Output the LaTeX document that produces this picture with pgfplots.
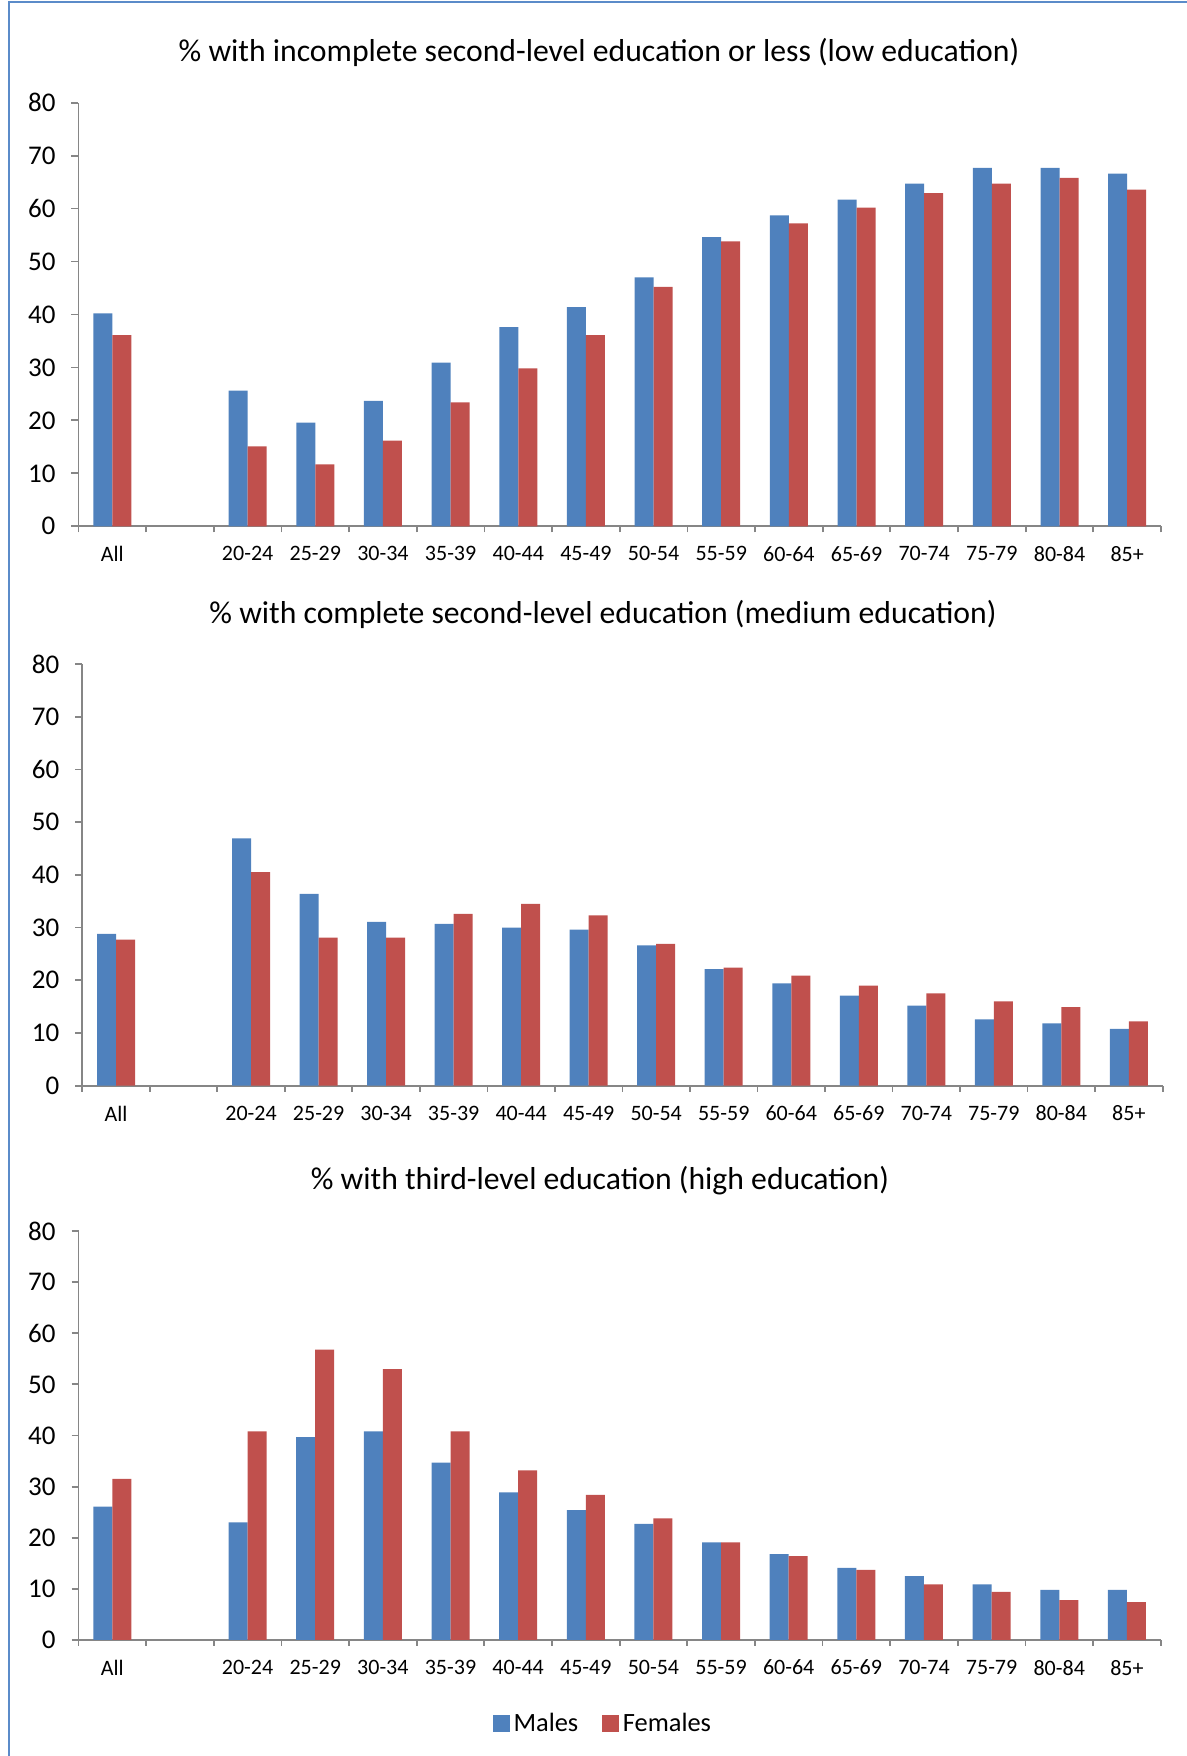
\documentclass[border=0pt]{standalone}
\usepackage{pgfplots}
\usepackage{pgfplotstable}
\pgfplotsset{compat=1.18}
\usepackage{fontspec}
\setmainfont{Carlito}
\definecolor{mblue}{HTML}{4F81BD}
\definecolor{fred}{HTML}{C0504D}
\definecolor{axgray}{HTML}{868686}
\definecolor{frameblue}{HTML}{5B8BC9}

\pgfplotstableread{
x M F
0 40.2 36.1
2 25.6 15.1
3 19.6 11.7
4 23.7 16.2
5 30.9 23.4
6 37.6 29.8
7 41.4 36.1
8 47.0 45.2
9 54.6 53.8
10 58.7 57.2
11 61.7 60.2
12 64.7 62.9
13 67.7 64.7
14 67.7 65.8
15 66.6 63.6
}\lowtab

\pgfplotstableread{
x M F
0 28.8 27.7
2 46.9 40.5
3 36.4 28.1
4 31.1 28.1
5 30.7 32.6
6 30.0 34.5
7 29.6 32.3
8 26.6 26.9
9 22.1 22.4
10 19.4 20.9
11 17.1 19.0
12 15.2 17.5
13 12.6 16.0
14 11.8 14.9
15 10.8 12.2
}\medtab

\pgfplotstableread{
x M F
0 26.1 31.5
2 23.0 40.8
3 39.7 56.8
4 40.8 53.0
5 34.7 40.8
6 28.9 33.2
7 25.4 28.4
8 22.7 23.8
9 19.1 19.1
10 16.8 16.4
11 14.1 13.7
12 12.5 10.9
13 10.9 9.4
14 9.8 7.8
15 9.8 7.4
}\hightab

\pgfplotsset{
  edu/.style={
    scale only axis,
    anchor=south west,
    ybar=0pt, bar width=9.5pt,
    xmin=-0.5, xmax=15.5, ymin=0, ymax=80,
    axis x line*=bottom, axis y line*=left,
    axis line style={axgray, line width=0.9pt},
    every tick/.style={axgray, line width=0.9pt},
    tick align=outside,
    major tick length=3.5pt,
    minor tick length=3pt,
    xtick={0,2,3,4,5,6,7,8,9,10,11,12,13,14,15},
    xticklabels={All,20-24,25-29,30-34,35-39,40-44,45-49,50-54,55-59,60-64,65-69,70-74,75-79,80-84,85+},
    major x tick style={draw=none},
    minor xtick={-0.5,0.5,1.5,2.5,3.5,4.5,5.5,6.5,7.5,8.5,9.5,10.5,11.5,12.5,13.5,14.5,15.5},
    ytick={0,10,20,30,40,50,60,70,80},
    /pgf/number format/assume math mode=true,
    xticklabel style={font=\fontsize{11}{13}\selectfont, text=black},
    yticklabel style={font=\fontsize{13.5}{15}\selectfont, text=black},
    xticklabel shift=3pt,
    yticklabel shift=4.5pt,
    legend image code/.code={\fill[##1, draw=none] (0pt,-4pt) rectangle (8.3pt,4.3pt);},
  }
}

\begin{document}
\begin{tikzpicture}[x=1pt,y=1pt]
\path[use as bounding box] (0,0) rectangle (593.5,878);
\draw[frameblue, line width=1pt] (4.5,0) -- (4.5,876.8) -- (593.5,876.8);

\node[font=\fontsize{15.85}{18}\selectfont] at (299.5,852) {\% with incomplete second-level education or less (low education)};
\node[font=\fontsize{15.85}{18}\selectfont] at (301.5,571) {\% with complete second-level education (medium education)};
\node[font=\fontsize{15.85}{18}\selectfont] at (300,287.5) {\% with third-level education (high education)};

\begin{axis}[edu, at={(39.25pt,614.85pt)}, width=541.25pt, height=211.8pt]
\addplot[fill=mblue, draw=none] table[x=x, y=M] {\lowtab};
\addplot[fill=fred, draw=none] table[x=x, y=F] {\lowtab};
\end{axis}

\begin{axis}[edu, at={(41.15pt,335.15pt)}, width=540.15pt, height=210.85pt]
\addplot[fill=mblue, draw=none] table[x=x, y=M] {\medtab};
\addplot[fill=fred, draw=none] table[x=x, y=F] {\medtab};
\end{axis}

\begin{axis}[edu, at={(39.25pt,58pt)}, width=541.1pt, height=204.5pt,
  legend style={draw=none, fill=none, at={(0.4856,-0.205)}, anchor=center,
    font=\fontsize{13.2}{15}\selectfont, /tikz/every even column/.append style={column sep=10pt}},
  legend columns=2]
\addplot[fill=mblue, draw=none] table[x=x, y=M] {\hightab};
\addlegendentry{Males}
\addplot[fill=fred, draw=none] table[x=x, y=F] {\hightab};
\addlegendentry{Females}
\end{axis}
\end{tikzpicture}
\end{document}
